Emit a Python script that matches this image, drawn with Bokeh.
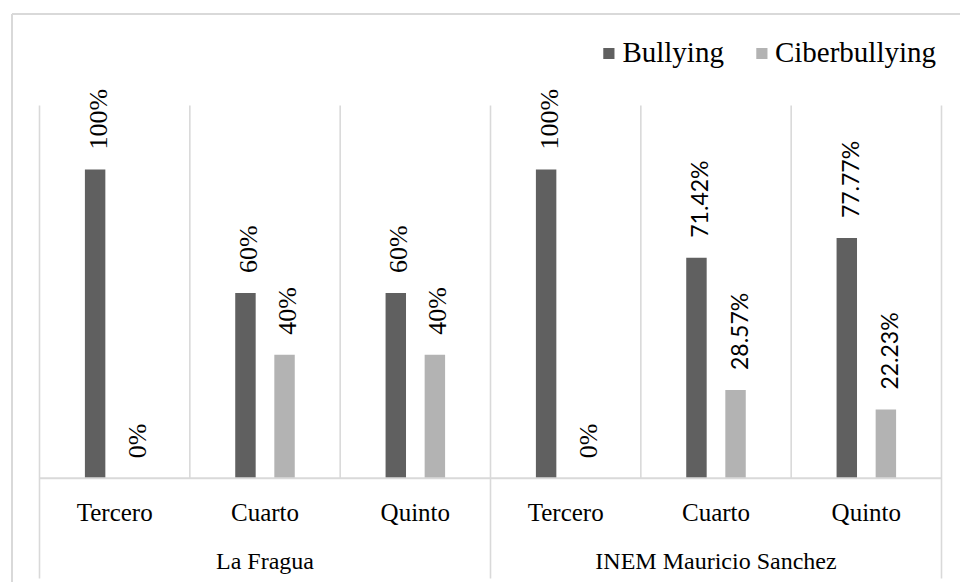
import math
from bokeh.plotting import figure
from bokeh.models import Range1d, ColumnDataSource, Legend, LegendItem
from bokeh.core.properties import value
from bokeh.embed import file_html
from bokeh.resources import INLINE

# ---------------- data ----------------
schools = ["La Fragua", "INEM Mauricio Sanchez"]
grades = ["Tercero", "Cuarto", "Quinto"]
series = ["Bullying", "Ciberbullying"]
bullying = [1.00, 0.60, 0.60, 1.00, 0.7142, 0.7777]
ciberbullying = [0.00, 0.40, 0.40, 0.00, 0.2857, 0.2223]

# ---------------- layout (pixels) ----------------
W, H = 960, 582
FRAME_L, FRAME_T = 10, 12          # position of the plotting frame
PLOT_L, PLOT_R = 39, 941           # category area
BASE_Y = 477.7                     # y of 0 %
PX_PER_UNIT = 308.7                # pixels per 100 %
n_cat = len(schools) * len(grades)
CAT_W = (PLOT_R - PLOT_L) / n_cat

def xd(px):
    return (px - PLOT_L) / CAT_W

def yd(py):
    return (BASE_Y - py) / PX_PER_UNIT

GRID = "#d9d9d9"
C_BULL = "#606060"
C_CIBER = "#b3b3b3"
SERIF = "Liberation Serif"

p = figure(width=W, height=H, output_backend="svg", toolbar_location=None,
           x_axis_type=None, y_axis_type=None,
           x_range=Range1d(xd(FRAME_L), xd(W)),
           y_range=Range1d(yd(H), yd(FRAME_T)),
           min_border_left=FRAME_L, min_border_top=FRAME_T,
           min_border_right=0, min_border_bottom=0)
p.outline_line_color = None
p.background_fill_color = "white"
p.border_fill_color = "white"

# chart outer border (top and left visible)
p.segment(x0=[xd(11.5), xd(11.5)], y0=[yd(13.5), yd(13.5)],
          x1=[xd(W), xd(11.5)], y1=[yd(13.5), yd(H)],
          line_color=GRID, line_width=2)

# category separators
bounds = list(range(n_cat + 1))
group_bounds = [k * len(grades) for k in range(len(schools) + 1)]
inner = [b for b in bounds if b not in group_bounds]
top_sep = yd(105)
p.segment(x0=inner, x1=inner, y0=[0] * len(inner), y1=[top_sep] * len(inner),
          line_color=GRID, line_width=1.6)
p.segment(x0=group_bounds, x1=group_bounds, y0=[yd(578)] * len(group_bounds),
          y1=[top_sep] * len(group_bounds), line_color=GRID, line_width=1.6)

# bars
centers = [i + 0.5 for i in range(n_cat)]
off = 0.13
bw = 0.136
xb = [c - off for c in centers]
xc = [c + off for c in centers]
r_b = p.vbar(x=xb, top=bullying, bottom=0, width=bw, fill_color=C_BULL, line_color=None)
r_c = p.vbar(x=xc, top=ciberbullying, bottom=0, width=bw, fill_color=C_CIBER, line_color=None)

# baseline
p.segment(x0=[0], x1=[n_cat], y0=[0], y1=[0], line_color=GRID, line_width=2)

# value labels
def fmt(v):
    return f"{v * 100:.2f}".rstrip("0").rstrip(".") + "%"

xs = xb + xc
vals = bullying + ciberbullying
labs = [fmt(v) for v in vals]
ints = [i for i, t in enumerate(labs) if "." not in t]
decs = [i for i, t in enumerate(labs) if "." in t]
src_i = ColumnDataSource(dict(x=[xs[i] for i in ints], y=[vals[i] for i in ints], t=[labs[i] for i in ints]))
src_d = ColumnDataSource(dict(x=[xs[i] for i in decs], y=[vals[i] for i in decs], t=[labs[i] for i in decs]))
p.text(x="x", y="y", text="t", source=src_i, angle=math.pi / 2, text_align="left",
       text_baseline="middle", y_offset=-20, x_offset=3, text_color="black",
       text_font=value(SERIF), text_font_size="26px")
p.text(x="x", y="y", text="t", source=src_d, angle=math.pi / 2, text_align="left",
       text_baseline="middle", y_offset=-20, x_offset=3, text_color="black",
       text_font=value("Lato"), text_font_size="23px")

# category labels
p.text(x=centers, y=[yd(511.5)] * n_cat, text=grades * len(schools),
       text_align="center", text_baseline="middle", text_color="black",
       text_font=value(SERIF), text_font_size="25px")
group_centers = [k * len(grades) + len(grades) / 2 for k in range(len(schools))]
p.text(x=group_centers, y=[yd(560.5)] * len(schools), text=schools,
       text_align="center", text_baseline="middle", text_color="black",
       text_font=value(SERIF), text_font_size="24px")

legend = Legend(items=[LegendItem(label=series[0], renderers=[r_b]),
                       LegendItem(label=series[1], renderers=[r_c])],
                orientation="horizontal", location="top_right",
                glyph_width=14, glyph_height=14, label_standoff=7, spacing=30,
                padding=0, margin=24, label_text_font=SERIF,
                label_text_font_size="29px", label_text_color="black",
                background_fill_alpha=0, border_line_color=None)
p.add_layout(legend)

open("out.html", "w").write(file_html(p, INLINE))
